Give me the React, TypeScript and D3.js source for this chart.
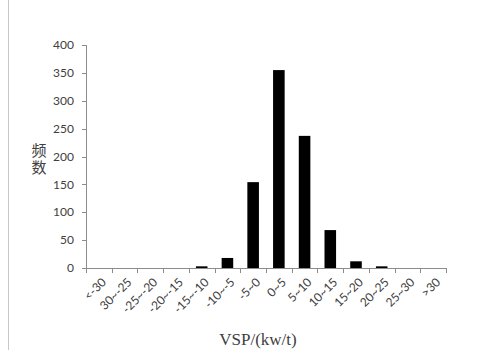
import React from "react";
import * as d3 from "d3";

const categories = ["<-30", "30~-25", "-25~-20", "-20~-15", "-15~-10", "-10~-5", "-5~0", "0~5", "5~10", "10~15", "15~20", "20~25", "25~30", ">30"];
const counts = [0, 0, 0, 0, 3, 18, 154, 355, 237, 68, 12, 3, 0, 0];
const yTicks = [0, 50, 100, 150, 200, 250, 300, 350, 400];

const W = 477;
const H = 350;
const plot = { left: 86, right: 446, top: 45, bottom: 268 };

export default function App() {
  const x = d3.scaleBand<string>().domain(categories).range([plot.left, plot.right]).paddingInner(0.55).paddingOuter(0.275);
  const xb = d3.scaleBand<string>().domain(categories).range([plot.left, plot.right]);
  const y = d3.scaleLinear().domain([0, 400]).range([plot.bottom, plot.top]);
  const axisColor = "#8c8c8c";
  const textColor = "#404040";
  const font = "Lato, 'Open Sans', sans-serif";

  return (
    <svg width={W} height={H} style={{ position: "absolute", left: 0, top: 0, background: "#fff" }}>
      <line x1={8.5} x2={8.5} y1={0} y2={H} stroke="#c8c8c8" />
      {/* y axis */}
      <line x1={plot.left + 0.5} x2={plot.left + 0.5} y1={plot.top} y2={plot.bottom} stroke={axisColor} />
      {yTicks.map((t) => (
        <g key={t}>
          <line x1={plot.left - 4} x2={plot.left} y1={Math.round(y(t)) + 0.5} y2={Math.round(y(t)) + 0.5} stroke={axisColor} />
          <text x={plot.left - 12} y={y(t)} dy="0.35em" textAnchor="end" fontSize={12} fill={textColor} fontFamily={font}>
            {t}
          </text>
        </g>
      ))}
      {/* bars */}
      {categories.map((c, i) => (
        <rect key={c} x={x(c)} y={y(counts[i])} width={x.bandwidth()} height={plot.bottom - y(counts[i])} fill="#000" />
      ))}
      {/* x axis */}
      <line x1={plot.left} x2={plot.right} y1={plot.bottom + 0.5} y2={plot.bottom + 0.5} stroke={axisColor} />
      {categories.map((c) => (
        <line key={"t" + c} x1={Math.round(xb(c)!) + 0.5} x2={Math.round(xb(c)!) + 0.5} y1={plot.bottom} y2={plot.bottom + 5} stroke={axisColor} />
      ))}
      <line x1={plot.right + 0.5} x2={plot.right + 0.5} y1={plot.bottom} y2={plot.bottom + 5} stroke={axisColor} />
      {categories.map((c) => {
        const cx = xb(c)! + xb.bandwidth() / 2 + 5;
        return (
          <text key={"l" + c} transform={`translate(${cx},${plot.bottom + 12}) rotate(-45)`} textAnchor="end" dy="0.35em" fontSize={12} fill={textColor} fontFamily={font}>
            {c}
          </text>
        );
      })}
      {/* axis titles: y title set vertically, one character per line */}
      <text x={39} y={143} fontSize={15} letterSpacing={2} fill={textColor} fontFamily="'Noto Sans CJK SC', sans-serif" style={{ writingMode: "vertical-rl" }}>
        频数
      </text>
      <text x={258} y={345} textAnchor="middle" fontSize={17} fill={textColor} fontFamily="'Liberation Serif', serif">VSP/(kw/t)</text>
    </svg>
  );
}
